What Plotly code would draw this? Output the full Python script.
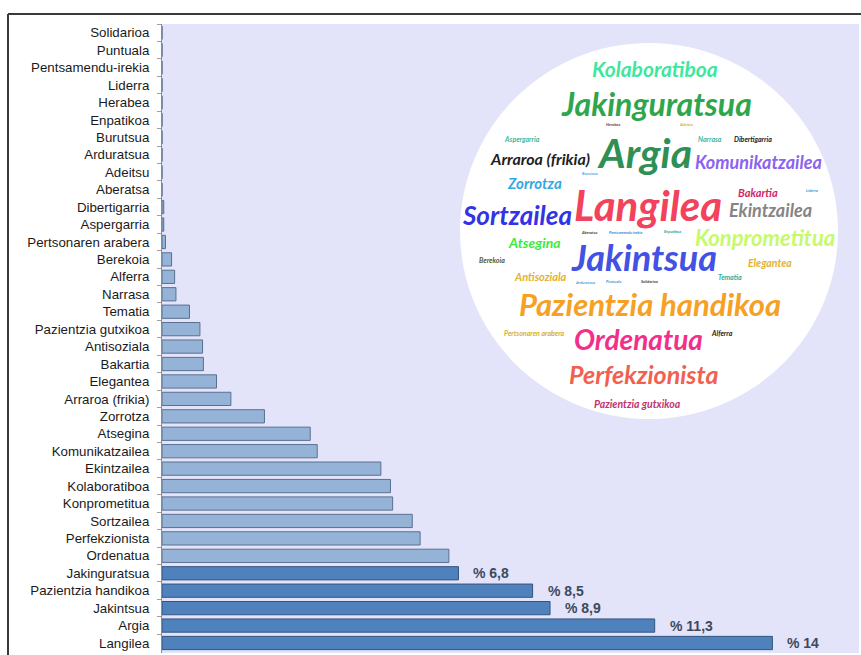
import plotly.graph_objects as go

# Ezaugarriak (goitik behera) eta ehunekoak
categories = [
    "Solidarioa", "Puntuala", "Pentsamendu-irekia", "Liderra", "Herabea",
    "Enpatikoa", "Burutsua", "Arduratsua", "Adeitsu", "Aberatsa",
    "Dibertigarria", "Aspergarria", "Pertsonaren arabera", "Berekoia",
    "Alferra", "Narrasa", "Tematia", "Pazientzia gutxikoa", "Antisoziala",
    "Bakartia", "Elegantea", "Arraroa (frikia)", "Zorrotza", "Atsegina",
    "Komunikatzailea", "Ekintzailea", "Kolaboratiboa", "Konprometitua",
    "Sortzailea", "Perfekzionista", "Ordenatua", "Jakinguratsua",
    "Pazientzia handikoa", "Jakintsua", "Argia", "Langilea",
]
values = [
    0, 0, 0, 0, 0,
    0, 0, 0, 0, 0,
    0.04, 0.04, 0.08, 0.22,
    0.29, 0.32, 0.63, 0.87, 0.93,
    0.95, 1.25, 1.58, 2.35, 3.4,
    3.56, 5.02, 5.24, 5.29,
    5.74, 5.92, 6.58, 6.8,
    8.5, 8.9, 11.3, 14,
]
highlighted = ["Jakinguratsua", "Pazientzia handikoa", "Jakintsua", "Argia", "Langilea"]

W, H = 861, 655
ML, MR, MT, MB = 162, 2, 24, 2
PW, PH = W - ML - MR, H - MT - MB


def px(x):
    return (x - ML) / PW


def py(y):
    return (H - MB - y) / PH


LIGHT, DARK = "#95B3D7", "#4F81BD"
colors = [DARK if c in highlighted else LIGHT for c in categories]
edges = ["#35557F" if c in highlighted else "#5B7090" for c in categories]


def pct(v):
    s = f"{v:.1f}".replace(".", ",")
    if s.endswith(",0"):
        s = s[:-2]
    return f"% {s}"


fig = go.Figure(go.Bar(
    x=values, y=categories, orientation="h",
    marker=dict(color=colors, line=dict(color=edges, width=1)),
    width=0.76, hoverinfo="x+y",
))

annotations = []
for c, v in zip(categories, values):
    if c in highlighted:
        annotations.append(dict(
            x=v, y=c, xref="x", yref="y", text=pct(v), showarrow=False,
            xanchor="left", yanchor="middle", xshift=13,
            font=dict(family="Liberation Sans, Arial", size=14, color="#3C4A5E", weight="bold"),
        ))

# Hitz-hodeia: hitza, erdigunea (px), letra-tamaina, kolorea
cloud = [
    ("Kolaboratiboa", 655, 68, 21, "#3DE89C"),
    ("Jakinguratsua", 656, 103, 32, "#2FA64C"),
    ("Herabea", 613, 124, 4, "#7A3A4A"),
    ("Adeitsu", 686, 124, 4, "#D8B020"),
    ("Aspergarria", 522, 139, 7, "#3FB8A0"),
    ("Narrasa", 710, 139, 7, "#3FB8A0"),
    ("Dibertigarria", 753, 139, 7, "#222222"),
    ("Arraroa (frikia)", 540, 158, 16, "#1E1E1E"),
    ("Argia", 644, 152, 41, "#2E9055"),
    ("Komunikatzailea", 758, 162, 18, "#8A63EE"),
    ("Burutsua", 590, 174, 4, "#4AA8E0"),
    ("Zorrotza", 534, 183, 15, "#35A8E0"),
    ("Bakartia", 758, 192, 11, "#D02868"),
    ("Liderra", 812, 190, 4, "#3A9AD8"),
    ("Langilea", 648, 205, 42, "#F2425C"),
    ("Ekintzailea", 770, 210, 18, "#858585"),
    ("Sortzailea", 517, 215, 26, "#3333E6"),
    ("Aberatsa", 589, 232, 4, "#5A3A2A"),
    ("Pentsamendu irekia", 625, 232, 4, "#3A8AD0"),
    ("Enpatikoa", 672, 231, 4, "#2AA890"),
    ("Konprometitua", 765, 237, 22, "#C6FA6A"),
    ("Atsegina", 534, 243, 14, "#3EEA3E"),
    ("Jakintsua", 644, 257, 36, "#4352E2"),
    ("Berekoia", 492, 260, 7, "#5A5A2A"),
    ("Elegantea", 770, 263, 10.5, "#E2B232"),
    ("Antisoziala", 540, 276, 11, "#E2B232"),
    ("Tematia", 730, 277, 7, "#2AB0A0"),
    ("Arduratsua", 585, 282, 4, "#3AA8E0"),
    ("Puntuala", 613, 281, 4, "#3A9AD8"),
    ("Solidarioa", 649, 281, 4, "#4A3A2A"),
    ("Pazientzia handikoa", 650, 304, 31, "#F6A024"),
    ("Pertsonaren arabera", 534, 333, 7, "#D8B030"),
    ("Ordenatua", 638, 339, 28, "#F2308A"),
    ("Alferra", 722, 333, 7, "#1E1E1E"),
    ("Perfekzionista", 643, 374, 25, "#F26050"),
    ("Pazientzia gutxikoa", 637, 404, 10.5, "#C23272"),
]
for word, cx, cy, size, col in cloud:
    annotations.append(dict(
        x=px(cx), y=py(cy), xref="paper", yref="paper", text=word,
        showarrow=False, xanchor="center", yanchor="middle", borderpad=0,
        font=dict(family="Lato", size=size, color=col, style="italic", weight="bold"),
    ))

shapes = [
    # hodeiaren zirkulu zuria
    dict(type="circle", xref="paper", yref="paper",
         x0=px(460), x1=px(838), y0=py(419), y1=py(43),
         fillcolor="white", line=dict(width=0), layer="below"),
    # kanpoko markoa
    dict(type="line", xref="paper", yref="paper",
         x0=px(8), x1=px(862), y0=py(14), y1=py(14),
         line=dict(color="#3A3A3A", width=2)),
    dict(type="line", xref="paper", yref="paper",
         x0=px(8), x1=px(8), y0=py(14), y1=py(656),
         line=dict(color="#3A3A3A", width=2)),
]

fig.update_layout(
    width=W, height=H,
    margin=dict(l=ML, r=MR, t=MT, b=MB, pad=0),
    paper_bgcolor="white", plot_bgcolor="#E3E3FA",
    showlegend=False,
    bargap=0.24,
    annotations=annotations,
    shapes=shapes,
    xaxis=dict(range=[0, PW / 43.6], visible=False, fixedrange=True),
    yaxis=dict(
        type="category", autorange="reversed",
        showline=True, linecolor="#8C8C8C", linewidth=1,
        ticks="outside", tickson="boundaries", ticklen=4, tickcolor="#A0A0A0",
        showgrid=False, zeroline=False,
        tickfont=dict(family="Liberation Sans, Arial", size=13.3, color="#1A1A1A"),
        ticklabelstandoff=9,
    ),
)

fig.write_html("out.html")
